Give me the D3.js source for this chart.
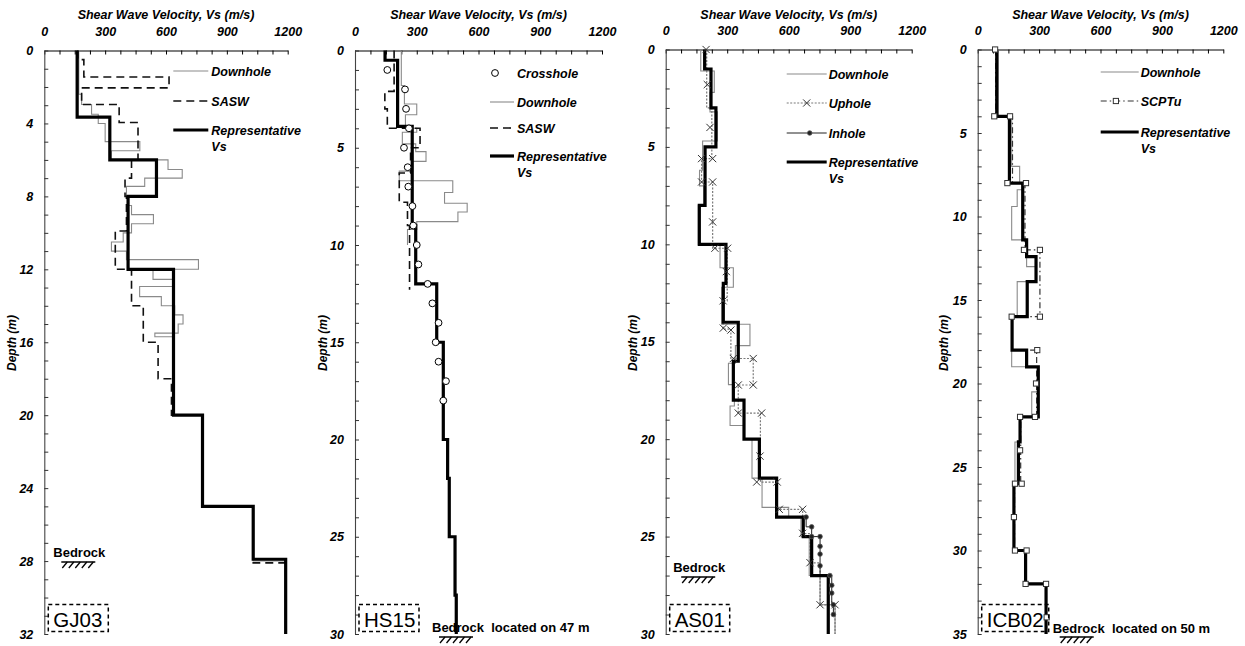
<!DOCTYPE html>
<html><head><meta charset="utf-8">
<script src="https://cdn.jsdelivr.net/npm/d3@7"></script>
<style>
body{margin:0;background:#fff;}
</style></head><body>
<svg id="chart" width="1245" height="646"></svg>
<script>
// ---------- DATA (depth top [m], Vs [m/s]); last row = bottom of profile ----------
const velocityLabels = [0, 300, 600, 900, 1200];
const gj03DepthLabels = [0, 4, 8, 12, 16, 20, 24, 28, 32];
const hs15DepthLabels = [0, 5, 10, 15, 20, 25, 30];
const as01DepthLabels = [0, 5, 10, 15, 20, 25, 30];
const icb02DepthLabels = [0, 5, 10, 15, 20, 25, 30, 35];

// GJ03
const gj03Downhole = [[0,170],[2.4,184],[2.96,233],[3.5,266],[4.0,300],[5.0,471],[5.5,331],[6.0,610],[6.53,680],[7.0,495],[7.45,405],[8.0,413],[8.5,430],[9.0,538],[9.5,430],[10.0,389],[10.5,331],[11.0,405],[11.47,760],[12.0,536],[12.55,635],[12.94,470],[13.5,577],[14.0,643],[14.5,684],[15.0,660],[15.5,545],[15.7,635],[20,780],[25,1030],[28,1190],[32,1190]];
const gj03Sasw = [[0,165],[0.5,195],[1.45,615],[2.05,184],[2.96,369],[3.95,462],[6.0,430],[7.0,398],[8.0,405],[9.9,350],[12.0,430],[14.0,488],[16.0,561],[18.0,627],[20,780],[25,1030],[28.1,1190],[32,1190]];
const gj03Representative = [[0,162],[3.65,323],[6,553],[8,413],[12,637],[20,780],[25,1030],[27.9,1190],[32,1190]];

// HS15
const hs15Crosshole = [[1,157],[2,243],[3,248],[4,262],[5,238],[6,256],[7,259],[8,279],[9,283],[10,300],[11,308],[12,353],[13,376],[14,406],[15,392],[16,406],[17,442],[18,429]];
const hs15Downhole = [[0,225],[1.8,240],[2.75,300],[3.3,245],[4.0,300],[4.2,230],[4.8,295],[5.2,345],[5.7,280],[6.2,215],[6.7,475],[7.3,435],[7.85,545],[8.3,500],[8.8,300],[9.2,255],[10,255]];
const hs15Sasw = [[0,190],[2.1,145],[3.0,157],[4.0,316],[5.0,270],[6.3,215],[7.8,255],[9.0,265],[12.3,265]];
const hs15Representative = [[0,146],[0.5,207],[3.9,278],[9.0,295],[12,397],[15,429],[20,450],[22,458],[25,486],[28,492],[30,492]];

// AS01
const as01Downhole = [[0,171],[1.1,237],[2.2,216],[3.2,252],[4.7,180],[6.2,165],[7.0,185],[8,159],[10,265],[11.2,330],[12.2,273],[14.1,411],[15.2,340],[16.1,306],[17.2,335],[18.3,314],[19.3,382],[20,421],[22,470],[23.5,600],[24,660],[25,700],[27,753],[28.5,826],[30,826]];
const as01Uphole = [[0,200],[3.0,225],[5.6,175],[6.8,229],[10.2,300],[12.9,280],[14.35,318],[15.86,427],[17.22,354],[18.66,462],[22.2,544],[23.6,668],[24.85,704],[26.35,753],[28.5,826],[30,826]];
const as01UpholePoints = [[0,197],[1.8,203],[4.0,216],[5.6,229],[5.6,175],[6.8,175],[6.8,229],[8.85,229],[10.2,240],[10.2,302],[11.4,296],[12.9,280],[14.3,281],[14.4,318],[15.86,330],[15.86,427],[17.22,354],[17.22,427],[18.66,354],[18.66,468],[20.87,460],[22.2,444],[22.2,544],[23.6,554],[23.6,668],[24.83,668],[26.34,704],[28.5,753],[28.5,826]];
const as01Inhole = [[24.0,685],[24.5,712],[25.0,753],[27.0,810],[28.5,818],[29.0,818]];
const as01InholePoints = [[24.0,685],[24.5,712],[25.0,712],[25.0,753],[25.5,753],[25.9,753],[26.5,753],[27.0,801],[27.5,810],[27.9,810],[28.5,818],[29.0,818]];
const as01Representative = [[0,190],[1,221],[3,245],[5,192],[8,164],[10,294],[12,281],[14,354],[16,330],[18,382],[20,457],[22,541],[24,671],[25,712],[27,793],[30,793]];

// ICB02
const icb02Downhole = [[0,101],[4,166],[7,205],[8,220],[8.4,193],[9.4,166],[11.4,239],[13.0,285],[13.9,193],[16,168],[18,166],[19,296],[20.5,264],[22,207],[23.5,182],[26,177],[30,234],[32,334],[35,334]];
const icb02Scptu = [[0,88],[4,170],[8,231],[12,304],[16,166],[18,288],[22,210],[26,180],[30,237],[32,335],[34,335]];
const icb02ScptuPoints = [[0,85],[4,81],[4,158],[8,145],[8,236],[12,226],[12,304],[16,166],[16,304],[18,291],[20,285],[22,280],[22,207],[24,207],[26,215],[26,182],[28,177],[30,182],[30,239],[32,234],[32,334],[34,337]];
const icb02Representative = [[0,93],[4,155],[8,220],[11.4,239],[12.4,285],[13.9,242],[16,168],[18,239],[19,296],[22,207],[23.5,199],[26,177],[30,234],[32,334],[35,334]];

// ---------- DRAWING ----------
const FONT = '"Liberation Sans", Arial, Helvetica, sans-serif';
const svg = d3.select('#chart');

const styles = {
  downhole: {stroke:'#8a8a8a', width:1.1, dash:null},
  sasw: {stroke:'#111', width:1.6, dash:'8,5'},
  uphole: {stroke:'#7a7a7a', width:1.2, dash:'2,1.5'},
  inhole: {stroke:'#222', width:1, dash:null},
  scptu: {stroke:'#333', width:1.2, dash:'6,3,1.5,3'},
  rep: {stroke:'#000', width:3.2, dash:null}
};

function marker(g, type, cx, cy) {
  if (type === 'circle') {
    g.append('circle').attr('cx',cx).attr('cy',cy).attr('r',3.4)
      .attr('fill','#fff').attr('stroke','#000').attr('stroke-width',1);
  } else if (type === 'x') {
    const s = 3.6;
    g.append('path').attr('d',`M${cx-s},${cy-s}L${cx+s},${cy+s}M${cx-s},${cy+s}L${cx+s},${cy-s}`)
      .attr('stroke','#333').attr('stroke-width',1).attr('fill','none');
  } else if (type === 'dot') {
    g.append('circle').attr('cx',cx).attr('cy',cy).attr('r',2.3)
      .attr('fill','#222').attr('stroke','#555').attr('stroke-width',0.8);
  } else if (type === 'square') {
    g.append('rect').attr('x',cx-2.6).attr('y',cy-2.6).attr('width',5.2).attr('height',5.2)
      .attr('fill','#fff').attr('stroke','#333').attr('stroke-width',1);
  }
}

function hatch(g, x, y, w) {
  g.append('line').attr('x1',x).attr('x2',x+w).attr('y1',y).attr('y2',y)
    .attr('stroke','#000').attr('stroke-width',1.4);
  const n = 5;
  for (let i = 0; i < n; i++) {
    const xx = x + 6 + i * (w - 8) / (n - 1);
    g.append('line').attr('x1',xx).attr('y1',y).attr('x2',xx-5).attr('y2',y+6)
      .attr('stroke','#000').attr('stroke-width',1.3);
  }
}

function boldItalic(sel, size) {
  return sel.attr('font-family',FONT).attr('font-weight','bold')
    .attr('font-style','italic').attr('font-size',size).attr('fill','#000');
}

const panels = [
  {x0:44.3, x1:287.7, y0:50.5, y1:634, maxDepth:32, depthLabels:gj03DepthLabels, dLabelX:12,
   site:'GJ03', boxW:60, lines:[['downhole',gj03Downhole],['sasw',gj03Sasw],['rep',gj03Representative]],
   points:[],
   legend:{lx1:129, lx2:164, tx:167, rows:[['downhole','Downhole',71],['sasw','SASW',101],['rep','Representative',130]]},
   bedrock:{type:'near', tx:9, ty:557, hx:17, hy:562}},
  {x0:355, x1:602, y0:50.5, y1:634, maxDepth:30, depthLabels:hs15DepthLabels, dLabelX:323,
   site:'HS15', boxW:60, lines:[['downhole',hs15Downhole],['sasw',hs15Sasw],['rep',hs15Representative]],
   points:[['circle',hs15Crosshole]],
   legend:{lx1:135, lx2:159, tx:162, rows:[['circle','Crosshole',73],['downhole','Downhole',102],['sasw','SASW',128],['rep','Representative',156]]},
   bedrock:{type:'far', text:'Bedrock  located on 47 m', tx:77, ty:632, hx:84, hy:637}},
  {x0:665.7, x1:911.7, y0:49.5, y1:634, maxDepth:30, depthLabels:as01DepthLabels, dLabelX:633,
   site:'AS01', boxW:60, lines:[['downhole',as01Downhole],['uphole',as01Uphole],['inhole',as01Inhole],['rep',as01Representative]],
   points:[['x',as01UpholePoints],['dot',as01InholePoints]],
   legend:{lx1:121, lx2:161, tx:163, rows:[['downhole','Downhole',74],['uphole','Uphole',103],['inhole','Inhole',133],['rep','Representative',162]]},
   bedrock:{type:'near', tx:7.5, ty:572, hx:15.5, hy:577}},
  {x0:977.7, x1:1223.3, y0:49.5, y1:634, maxDepth:35, depthLabels:icb02DepthLabels, dLabelX:944,
   site:'ICB02', boxW:67, lines:[['downhole',icb02Downhole],['scptu',icb02Scptu],['rep',icb02Representative]],
   points:[['square',icb02ScptuPoints]],
   legend:{lx1:123, lx2:161, tx:163, rows:[['downhole','Downhole',72],['scptu','SCPTu',101],['rep','Representative',132]]},
   bedrock:{type:'far', text:'Bedrock  located on 50 m', tx:75, ty:633, hx:82, hy:637}}
];

panels.forEach(p => {
  const g = svg.append('g');
  const x = d3.scaleLinear().domain([0,1200]).range([p.x0,p.x1]);
  const y = d3.scaleLinear().domain([0,p.maxDepth]).range([p.y0,p.y1]);

  // top axis
  const topAxis = d3.axisTop(x).tickValues(d3.range(0,1201,75))
    .tickSizeInner(-4).tickSizeOuter(0).tickPadding(15)
    .tickFormat(v => velocityLabels.includes(v) ? String(v) : '');
  const ta = g.append('g').attr('transform',`translate(0,${p.y0})`).call(topAxis);
  ta.select('.domain').attr('stroke','#000').attr('stroke-width',1.1);
  ta.selectAll('.tick line').attr('stroke','#000').attr('stroke-width',1);
  boldItalic(ta.selectAll('text'), 12.5);

  // left axis
  const leftAxis = d3.axisLeft(y).tickValues(d3.range(0,p.maxDepth+1,1))
    .tickSizeInner(-4).tickSizeOuter(0).tickPadding(11)
    .tickFormat(v => p.depthLabels.includes(v) ? String(v) : '');
  const la = g.append('g').attr('transform',`translate(${p.x0},0)`).call(leftAxis);
  la.select('.domain').attr('stroke','#444').attr('stroke-width',1.1);
  la.selectAll('.tick line').attr('stroke','#333').attr('stroke-width',1);
  boldItalic(la.selectAll('text'), 12.5);

  // titles
  boldItalic(g.append('text').attr('x',(p.x0+p.x1)/2).attr('y',18.5).attr('text-anchor','middle'), 12.5)
    .text('Shear Wave Velocity, Vs (m/s)');
  boldItalic(g.append('text').attr('transform',`translate(${p.dLabelX},343) rotate(-90)`)
    .attr('text-anchor','middle').attr('dy','0.35em'), 12).text('Depth (m)');

  // profiles
  const stepLine = d3.line().x(d => x(d[1])).y(d => y(d[0])).curve(d3.curveStepBefore);
  p.lines.forEach(([k, data]) => {
    const s = styles[k];
    g.append('path').attr('d', stepLine(data)).attr('fill','none')
      .attr('stroke', s.stroke).attr('stroke-width', s.width)
      .attr('stroke-dasharray', s.dash).attr('stroke-linejoin','miter');
  });
  p.points.forEach(([type, data]) => {
    data.forEach(d => marker(g, type, x(d[1]), y(d[0])));
  });

  // legend
  const L = p.legend;
  L.rows.forEach(([k, label, ly]) => {
    const x1 = p.x0 + L.lx1, x2 = p.x0 + L.lx2;
    if (k === 'circle') {
      marker(g, 'circle', p.x0 + 140, ly);
    } else {
      const s = styles[k];
      g.append('line').attr('x1',x1).attr('x2',x2).attr('y1',ly).attr('y2',ly)
        .attr('stroke',s.stroke).attr('stroke-width',s.width).attr('stroke-dasharray',s.dash);
      if (k === 'uphole') marker(g,'x',(x1+x2)/2,ly);
      if (k === 'inhole') marker(g,'dot',(x1+x2)/2+3,ly);
      if (k === 'scptu') marker(g,'square',x1+(x2-x1)*0.4,ly);
    }
    boldItalic(g.append('text').attr('x',p.x0+L.tx).attr('y',ly).attr('dy','0.36em'), 12.5).text(label);
    if (k === 'rep') {
      boldItalic(g.append('text').attr('x',p.x0+L.tx).attr('y',ly+16.5).attr('dy','0.36em'), 12.5).text('Vs');
    }
  });

  // bedrock
  const b = p.bedrock;
  if (b.type === 'near') {
    g.append('text').attr('x',p.x0+b.tx).attr('y',b.ty).attr('font-family',FONT)
      .attr('font-weight','bold').attr('font-size',13).text('Bedrock');
    hatch(g, p.x0+b.hx, b.hy, 34);
  } else {
    g.append('text').attr('x',p.x0+b.tx).attr('y',b.ty).attr('font-family',FONT)
      .attr('font-weight','bold').attr('font-size',13).attr('xml:space','preserve')
      .style('white-space','pre').text(b.text);
    hatch(g, p.x0+b.hx, b.hy, 34);
  }

  // site box
  g.append('rect').attr('x',p.x0+4).attr('y',604.5).attr('width',p.boxW).attr('height',27)
    .attr('fill','none').attr('stroke','#000').attr('stroke-width',1.5).attr('stroke-dasharray','4,3');
  g.append('text').attr('x',p.x0+9).attr('y',626.5).attr('font-family',FONT)
    .attr('font-size',20.5).attr('fill','#000').text(p.site);
});
</script>
</body></html>
